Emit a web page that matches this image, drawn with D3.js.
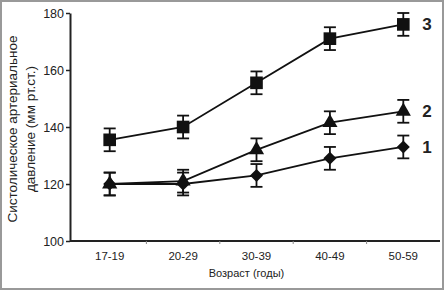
<!DOCTYPE html>
<html>
<head>
<meta charset="utf-8">
<script src="https://cdn.jsdelivr.net/npm/d3@7"></script>
<style>
  body { margin: 0; background: #fff; }
  svg text { font-family: "Liberation Sans", Arial, sans-serif; fill: #222; }
</style>
</head>
<body>
<div id="chart"></div>
<script>
const ageGroups = ["17-19", "20-29", "30-39", "40-49", "50-59"];
const group1 = [120, 120, 123, 129, 133];
const group2 = [120, 121, 132, 141.5, 145.5];
const group3 = [135.5, 140, 155.5, 171, 176];
const err1 = [4, 4, 4, 4, 4];
const err2 = [4, 4, 4, 4, 4];
const err3 = [4, 4, 4, 4, 4];
const yTicks = [100, 120, 140, 160, 180];

const W = 445, H = 292;
const margin = { top: 13, right: 5, bottom: 51, left: 70 };

const svg = d3.select("#chart").append("svg")
  .attr("width", W).attr("height", H);

// frame around whole picture
svg.append("rect")
  .attr("x", 1).attr("y", 1).attr("width", W - 3).attr("height", H - 4)
  .attr("fill", "none").attr("stroke", "#999").attr("stroke-width", 2);

const x = d3.scaleBand().domain(ageGroups).range([margin.left + 3, 440]).padding(0);
const y = d3.scaleLinear().domain([100, 180]).range([H - margin.bottom, margin.top]);

// y axis
const yAxis = svg.append("g")
  .attr("transform", `translate(${margin.left},0)`)
  .call(d3.axisLeft(y).tickValues(yTicks).tickSize(4).tickSizeOuter(0));
yAxis.select(".domain").attr("stroke", "#222").attr("stroke-width", 2);
yAxis.selectAll(".tick line").attr("stroke", "#222").attr("stroke-width", 1.5);
yAxis.selectAll(".tick text").style("font-size", "12.5px").attr("x", -6);

// x axis
svg.append("line")
  .attr("x1", margin.left).attr("x2", 440)
  .attr("y1", y(100)).attr("y2", y(100))
  .attr("stroke", "#222").attr("stroke-width", 2);
const xAxis = svg.append("g")
  .attr("transform", `translate(0,${y(100)})`)
  .call(d3.axisBottom(x).tickSize(0).tickPadding(11));
xAxis.select(".domain").remove();
xAxis.selectAll(".tick text").style("font-size", "11.5px");
svg.selectAll(".xtick").data(ageGroups.slice(1)).enter().append("line")
  .attr("x1", d => x(d)).attr("x2", d => x(d))
  .attr("y1", y(100)).attr("y2", y(100) + 3)
  .attr("stroke", "#888");

// axis titles
const yTitle = svg.append("text")
  .attr("transform", `translate(17,${(y(100) + y(180)) / 2 + 2}) rotate(-90)`)
  .attr("text-anchor", "middle")
  .style("font-size", "13.5px");
yTitle.append("tspan").attr("x", 0).attr("dy", 0).text("Систолическое артериальное");
yTitle.append("tspan").attr("x", 0).attr("dy", 18).text("давление (мм рт.ст.)");

svg.append("text")
  .attr("x", (x.range()[0] + x.range()[1]) / 2 - 10)
  .attr("y", 277)
  .attr("text-anchor", "middle")
  .style("font-size", "11px")
  .text("Возраст (годы)");

// diamonds are drawn as squares turned 45 degrees
const series = [
  { name: "1", values: group1, err: err1, shape: d3.symbolSquare, size: 85, rot: 45 },
  { name: "2", values: group2, err: err2, shape: d3.symbolTriangle, size: 100, rot: 0 },
  { name: "3", values: group3, err: err3, shape: d3.symbolSquare, size: 160, rot: 0 }
];

const cx = d => x(d) + x.bandwidth() / 2;
const line = d3.line().x(d => cx(d.cat)).y(d => y(d.v));

series.forEach(s => {
  const pts = ageGroups.map((cat, i) => ({ cat, v: s.values[i], e: s.err[i] }));
  const g = svg.append("g");
  g.append("path").datum(pts)
    .attr("d", line).attr("fill", "none")
    .attr("stroke", "#111").attr("stroke-width", 1.8);

  const eb = g.selectAll(".err").data(pts).enter().append("g");
  eb.append("line")
    .attr("x1", d => cx(d.cat)).attr("x2", d => cx(d.cat))
    .attr("y1", d => y(d.v - d.e)).attr("y2", d => y(d.v + d.e))
    .attr("stroke", "#111").attr("stroke-width", 1.8);
  [-1, 1].forEach(sg => {
    eb.append("line")
      .attr("x1", d => cx(d.cat) - 6).attr("x2", d => cx(d.cat) + 6)
      .attr("y1", d => y(d.v + sg * d.e)).attr("y2", d => y(d.v + sg * d.e))
      .attr("stroke", "#111").attr("stroke-width", 1.8);
  });

  g.selectAll(".pt").data(pts).enter().append("path")
    .attr("transform", d => `translate(${cx(d.cat)},${y(d.v)}) rotate(${s.rot})`)
    .attr("d", d3.symbol().type(s.shape).size(s.size))
    .attr("fill", "#111");

  const last = pts[pts.length - 1];
  g.append("text")
    .attr("x", cx(last.cat) + 19)
    .attr("y", y(last.v) + 6)
    .style("font-size", "17px").style("font-weight", "bold")
    .text(s.name);
});
</script>
</body>
</html>
